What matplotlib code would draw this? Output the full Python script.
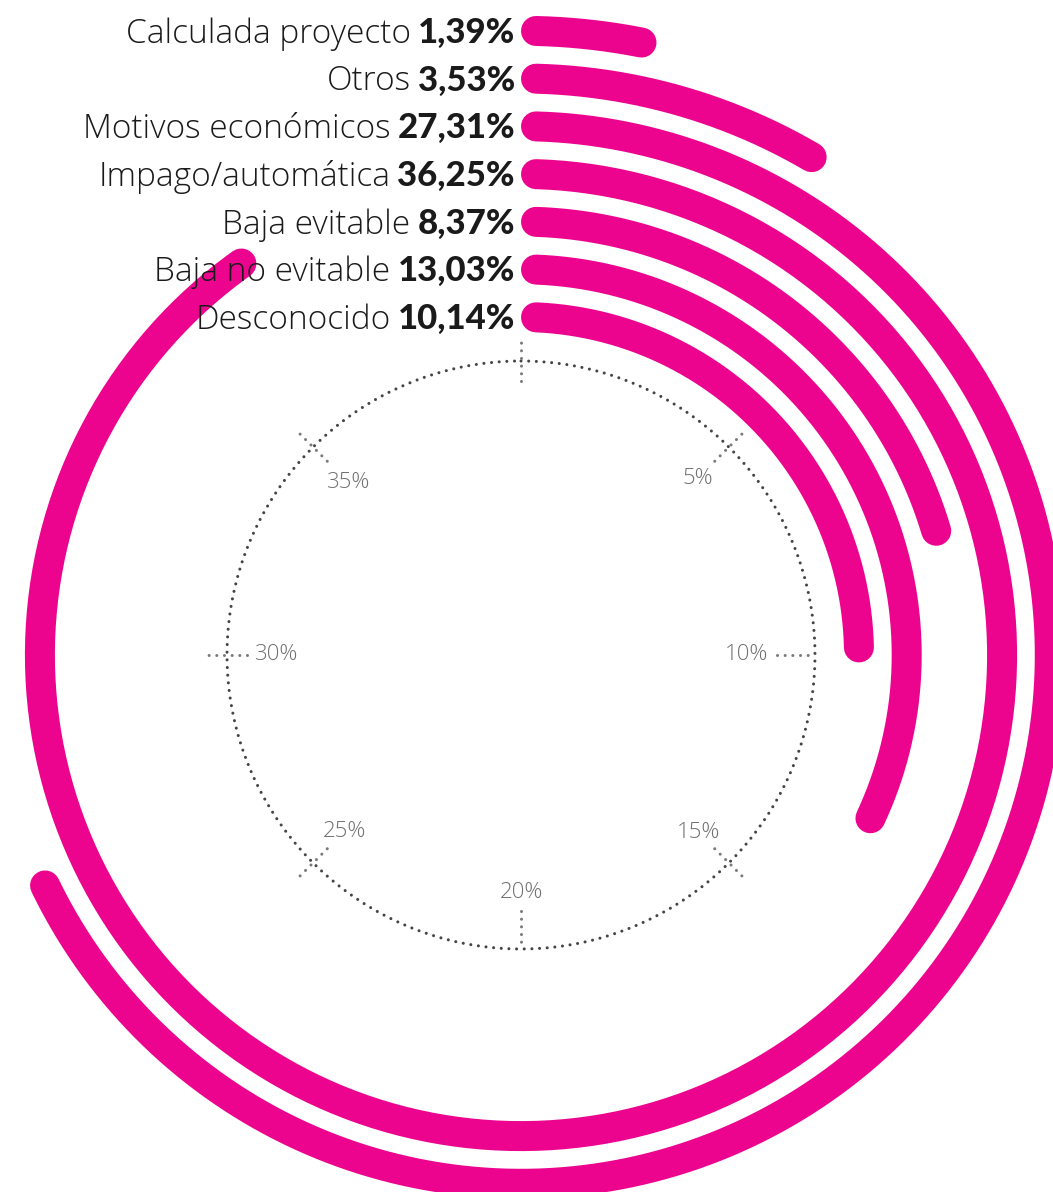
import numpy as np
import matplotlib.pyplot as plt
import matplotlib.transforms as mtransforms

# data (top label to innermost ring)
categorias = ['Calculada proyecto', 'Otros', 'Motivos económicos',
              'Impago/automática', 'Baja evitable', 'Baja no evitable',
              'Desconocido']
valores = [1.39, 3.53, 27.31, 36.25, 8.37, 13.03, 10.14]
ticks = [0, 5, 10, 15, 20, 25, 30, 35]
tick_labels = ['', '5%', '10%', '15%', '20%', '25%', '30%', '35%']

ESCALA = 40.0          # 40% = full turn
MAGENTA = '#EC048F'
W, H = 1053, 1192
CX, CY = 521, 655      # centre of the rings in pixels
RMAX = 700
r_inner = 338
paso = 47.7
ancho = 30             # bar width in px
r_guia = 294

plt.rcParams['font.family'] = ['Lato', 'DejaVu Sans']
LIGERA = ['Open Sans', 'DejaVu Sans']

fig = plt.figure(figsize=(W / 100, H / 100), dpi=100)
ax = fig.add_axes([(CX - RMAX) / W, (H - CY - RMAX) / H, 2 * RMAX / W, 2 * RMAX / H],
                  projection='polar')
ax.set_theta_zero_location('N')
ax.set_theta_direction(-1)
ax.set_rlim(0, RMAX)
ax.set_axis_off()

def ang(p):
    return p / ESCALA * 2 * np.pi

# guide circle
th = np.linspace(0, 2 * np.pi, 600)
ax.plot(th, np.full_like(th, r_guia), color='#444444', lw=2.2,
        linestyle=(0, (0.01, 2.5)), dash_capstyle='round')

# ticks and their labels
lab_r = {5: 250, 10: 247, 15: 251, 20: 238, 25: 249, 30: 244, 35: 244}
for t, lab in zip(ticks, tick_labels):
    a = ang(t)
    if t in (10, 20):
        r0, r1 = r_guia - 38, r_guia
    else:
        r0, r1 = r_guia - 20, r_guia + 20
    ax.plot([a, a], [r0, r1], color='#7a7a7a', lw=2.2,
            linestyle=(0, (0.01, 2.5)), dash_capstyle='round')
    if lab:
        ha = 'right' if t == 10 else 'center'
        ax.text(a, lab_r[t], lab, ha=ha, va='center', family=LIGERA,
                fontsize=16, color='#707070', fontweight='light')

# bars
n = len(valores)
radios = [r_inner + paso * (n - 1 - i) for i in range(n)]
for v, r in zip(valores, radios):
    cap = (ancho / 2) / r
    th = np.linspace(cap, ang(v) - cap, 400)
    ax.plot(th, np.full_like(th, r), color=MAGENTA, lw=ancho * 0.72,
            solid_capstyle='round', zorder=2)

# labels: light name + heavy percentage, right-aligned at the bar start
renderer = fig.canvas.get_renderer()
for cat, v, r in zip(categorias, valores, radios):
    pct = f'{v:.2f}'.replace('.', ',') + '%'
    tr = mtransforms.offset_copy(ax.transData, fig=fig, x=-6, y=-12, units='dots')
    tb = ax.text(0, r, pct, transform=tr, ha='right', va='baseline',
                 fontsize=25, fontweight='black', color='#1a1a1a', zorder=5)
    wb = tb.get_window_extent(renderer).width
    tr2 = mtransforms.offset_copy(ax.transData, fig=fig, x=-6 - wb - 7, y=-12,
                                  units='dots')
    ax.text(0, r, cat, transform=tr2, ha='right', va='baseline', family=LIGERA,
            fontsize=24, fontweight='light', color='#1a1a1a', zorder=5)

fig.savefig('out.png', dpi=100)
